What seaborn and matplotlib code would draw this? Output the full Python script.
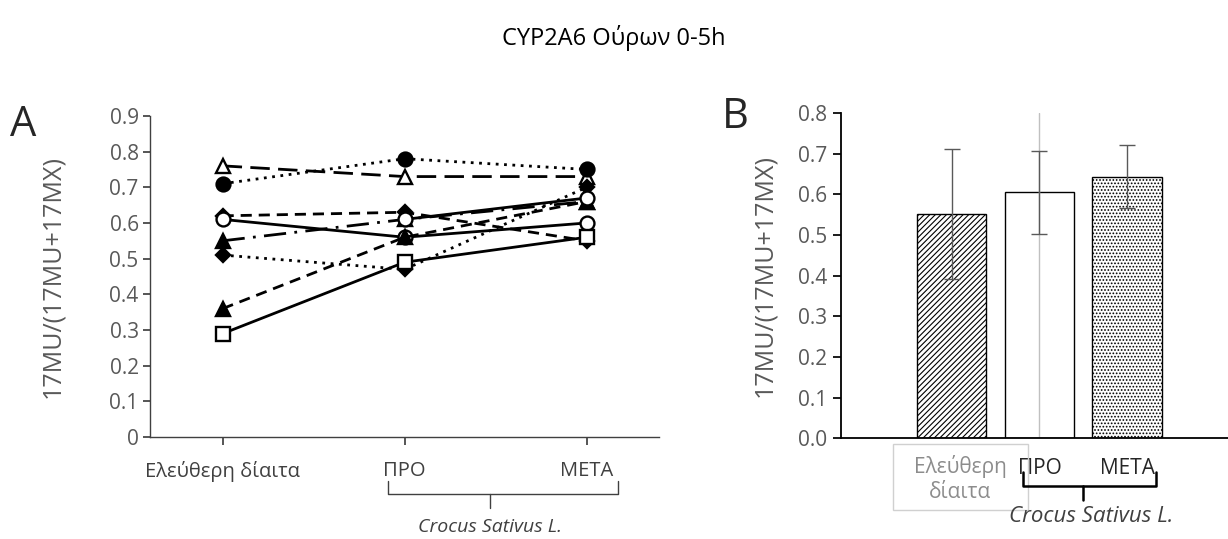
import matplotlib
matplotlib.use("Agg")
import matplotlib.pyplot as plt
import matplotlib.transforms as mtransforms
from matplotlib.patches import Rectangle
import seaborn as sns
import numpy as np
import pandas as pd

# --- data ---
phases = ["Ελεύθερη δίαιτα", "ΠΡΟ", "ΜΕΤΑ"]

# panel A: one line per volunteer (17MU/(17MU+17MX))
subj_1 = [0.76, 0.73, 0.73]
subj_2 = [0.71, 0.78, 0.75]
subj_3 = [0.62, 0.63, 0.55]
subj_4 = [0.61, 0.56, 0.60]
subj_5 = [0.55, 0.61, 0.66]
subj_6 = [0.51, 0.47, 0.70]
subj_7 = [0.36, 0.56, 0.66]
subj_8 = [0.29, 0.49, 0.56]
subj_9 = [np.nan, 0.61, 0.67]

# panel B: means and SD
bar_labels = ["Ελεύθερη\nδίαιτα", "ΠΡΟ", "ΜΕΤΑ"]
bar_mean = [0.553, 0.605, 0.644]
bar_sd = [0.160, 0.103, 0.077]

sns.set_theme(style="white")
plt.rcParams["font.family"] = ["Open Sans", "DejaVu Sans"]
plt.rcParams["hatch.color"] = "#6a6a6a"
plt.rcParams["hatch.linewidth"] = 0.8
grey = "#595959"
dark = "#404040"

fig = plt.figure(figsize=(12.28, 5.39), dpi=100)
axA = fig.add_axes([0.122, 0.189, 0.415, 0.596])
axB = fig.add_axes([0.685, 0.187, 0.315, 0.603])

# ---------- panel A ----------
series = [
    (subj_1, "^", "white", (0, (7, 3))),
    (subj_2, "o", "black", (0, (1, 2))),
    (subj_3, "D", "black", (0, (4, 2.5))),
    (subj_4, "o", "white", "-"),
    (subj_5, "^", "black", (0, (8, 3, 1, 3))),
    (subj_6, "D", "black", (0, (1, 2))),
    (subj_7, "^", "black", (0, (4, 2.5))),
    (subj_8, "s", "white", "-"),
    (subj_9, "o", "white", "-"),
]
for vals, mk, fc, ls in series:
    df = pd.DataFrame({"phase": phases, "ratio": vals})
    ms = 7 if mk == "D" else 10
    sns.lineplot(data=df, x="phase", y="ratio", ax=axA, color="black",
                 linestyle=ls, linewidth=2.0, marker=mk, markersize=ms,
                 markerfacecolor=fc, markeredgecolor="black", markeredgewidth=1.7,
                 sort=False)

axA.set_xlim(-0.4, 2.4)
axA.set_ylim(0, 0.9)
axA.set_yticks(np.arange(0, 0.91, 0.1))
axA.set_yticklabels(["0"] + [f"{v:.1f}" for v in np.arange(0.1, 0.91, 0.1)])
axA.set_xlabel("")
axA.set_ylabel("17MU/(17MU+17MX)", fontsize=18, color=grey)
axA.yaxis.set_label_coords(-0.167, 0.5)
for s in ["top", "right"]:
    axA.spines[s].set_visible(False)
for s in ["left", "bottom"]:
    axA.spines[s].set_color(dark)
    axA.spines[s].set_linewidth(1.0)
axA.tick_params(axis="y", left=True, length=5, color=dark, labelsize=15, labelcolor=grey, pad=3)
axA.tick_params(axis="x", bottom=True, length=6, color=dark, labelsize=14.5, labelcolor=dark, pad=11)

trA = mtransforms.blended_transform_factory(axA.transData, axA.transAxes)
axA.plot([0.91, 0.91, 2.17, 2.17], [-0.137, -0.178, -0.178, -0.137], color=dark,
         lw=1.0, transform=trA, clip_on=False)
axA.plot([1.47, 1.47], [-0.178, -0.221], color=dark, lw=1.0, transform=trA, clip_on=False)
axA.text(1.47, -0.28, "Crocus Sativus L.", transform=trA, ha="center", va="center",
         fontsize=14, style="italic", color=dark)
fig.text(23 / 1228, 1 - 125 / 539, "A", fontsize=30, ha="center", va="center")

# ---------- panel B ----------
dfB = pd.DataFrame({"phase": bar_labels, "mean": bar_mean, "sd": bar_sd})
sns.barplot(data=dfB, x="phase", y="mean", ax=axB, width=0.79,
            color="white", edgecolor="black", linewidth=1.0)
hatches = ["//////", "", "....."]
for patch, h in zip(axB.patches, hatches):
    patch.set_hatch(h)
axB.errorbar(x=np.arange(len(bar_mean)), y=bar_mean, yerr=bar_sd, fmt="none",
             ecolor=grey, elinewidth=1.0, capsize=6, capthick=1.0)
axB.axvline(1, ymin=0, ymax=1, color="#c0c0c0", lw=1.0, zorder=1)

axB.set_xlim(-1.26, 3.15)
axB.set_ylim(0, 0.8)
axB.set_yticks(np.arange(0, 0.81, 0.1))
axB.set_yticklabels([f"{v:.1f}" for v in np.arange(0, 0.81, 0.1)])
axB.set_xlabel("")
axB.set_ylabel("17MU/(17MU+17MX)", fontsize=18, color=grey)
axB.yaxis.set_label_coords(-0.165, 0.5)
for s in ["top", "right"]:
    axB.spines[s].set_visible(False)
for s in ["left", "bottom"]:
    axB.spines[s].set_color("black")
    axB.spines[s].set_linewidth(1.3)
axB.tick_params(axis="y", left=True, length=6, color="black", labelsize=15, labelcolor=grey, pad=4)
axB.set_xticks([1, 2])
axB.set_xticklabels(["ΠΡΟ", "ΜΕΤΑ"])
axB.tick_params(axis="x", bottom=False, labelsize=15, labelcolor="#262626", pad=8)

trB = mtransforms.blended_transform_factory(axB.transData, axB.transAxes)
axB.add_patch(Rectangle((-0.667, -0.222), 1.539, 0.204, transform=trB, fill=False,
                        ec="#d0d0d0", lw=1.0, clip_on=False))
axB.text(0.1, -0.125, bar_labels[0], transform=trB, ha="center", va="center",
         fontsize=15, color="#8c8c8c", linespacing=1.25)
axB.plot([0.815, 0.815, 2.33, 2.33], [-0.105, -0.147, -0.147, -0.105], color="black",
         lw=1.8, transform=trB, clip_on=False)
axB.plot([1.50, 1.50], [-0.147, -0.19], color="black", lw=1.8, transform=trB, clip_on=False)
axB.text(1.59, -0.24, "Crocus Sativus L.", transform=trB, ha="center", va="center",
         fontsize=16, style="italic", color=dark)
fig.text(735 / 1228, 1 - 117 / 539, "B", fontsize=30, ha="center", va="center")

fig.text(0.5, 1 - 38 / 539, "CYP2A6 Ούρων 0-5h", fontsize=17, ha="center", va="center",
         color="black")

fig.savefig("out.png", dpi=100)
